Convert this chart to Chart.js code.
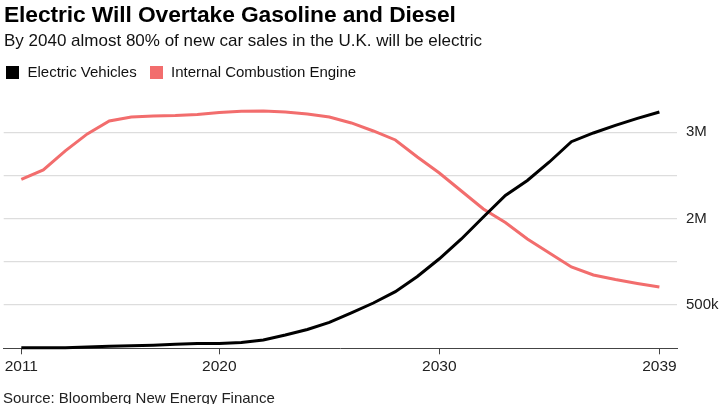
<!DOCTYPE html>
<html>
<head>
<meta charset="utf-8">
<script src="https://cdn.jsdelivr.net/npm/chart.js@4"></script>
<style>
  html, body { margin: 0; padding: 0; background: #fff; }
  body { width: 723px; height: 404px; position: relative; overflow: hidden; font-family: "Liberation Sans", Arial, sans-serif; color: #000; }
  #c { position: absolute; left: 0; top: 0; }
  .t { position: absolute; white-space: nowrap; }
  #title { left: 4px; top: 1px; font-size: 22.8px; font-weight: bold; letter-spacing: -0.1px; }
  #sub { left: 4px; top: 31px; font-size: 17px; color: #111; }
  .sw { position: absolute; width: 13px; height: 13px; top: 65.5px; }
  .lg { top: 63px; font-size: 15px; color: #111; }
  #src { left: 3px; top: 389px; font-size: 15px; color: #222; }
</style>
</head>
<body>
<canvas id="c" width="723" height="404"></canvas>
<div class="t" id="title">Electric Will Overtake Gasoline and Diesel</div>
<div class="t" id="sub">By 2040 almost 80% of new car sales in the U.K. will be electric</div>
<div class="sw" style="left:5.5px;background:#000"></div>
<div class="t lg" style="left:27.5px">Electric Vehicles</div>
<div class="sw" style="left:150px;background:#f26d6d"></div>
<div class="t lg" style="left:171px">Internal Combustion Engine</div>
<div class="t" id="src">Source: Bloomberg New Energy Finance</div>
<script>
const years = [2011,2012,2013,2014,2015,2016,2017,2018,2019,2020,2021,2022,2023,2024,2025,2026,2027,2028,2029,2030,2031,2032,2033,2034,2035,2036,2037,2038,2039,2040];
const electric = [5000,5000,6000,15000,23000,29000,35000,46000,56000,56000,67000,96000,154000,218000,299000,409000,524000,655000,831000,1036000,1265000,1520000,1769000,1942000,2156000,2391000,2492000,2579000,2660000,2735000];
const combustion = [1956000,2064000,2284000,2481000,2631000,2677000,2689000,2694000,2706000,2729000,2744000,2747000,2735000,2712000,2677000,2608000,2515000,2411000,2214000,2029000,1820000,1612000,1456000,1265000,1103000,941000,848000,796000,750000,709000];
const xTickValues = [2011, 2020, 2030, 2040];
const xTickLabels = ["2011", "2020", "2030", "2039"];
const yTickValues = [500000, 1000000, 1500000, 2000000, 2500000];
const yTickLabels = ["500k", "", "2M", "", "3M"];

const toPoints = arr => years.map((yr, i) => ({ x: yr, y: arr[i] }));

new Chart(document.getElementById('c'), {
  type: 'line',
  data: {
    datasets: [
      { label: 'Electric Vehicles', data: toPoints(electric), borderColor: '#000', borderWidth: 3, pointRadius: 0, tension: 0, clip: false },
      { label: 'Internal Combustion Engine', data: toPoints(combustion), borderColor: '#f26d6d', borderWidth: 3, pointRadius: 0, tension: 0, clip: false }
    ]
  },
  options: {
    responsive: false,
    animation: false,
    events: [],
    layout: { padding: { top: 97.7, left: 3.7, right: 0, bottom: 0 } },
    plugins: { legend: { display: false }, tooltip: { enabled: false }, title: { display: false } },
    scales: {
      x: {
        type: 'linear',
        min: 2010.2,
        max: 2040.8,
        afterBuildTicks: s => { s.ticks = xTickValues.map(v => ({ value: v })); },
        afterFit: s => { s.height = 55.7; },
        ticks: {
          autoSkip: false,
          maxRotation: 0,
          padding: 3,
          color: '#222',
          font: { family: '"Liberation Sans", Arial, sans-serif', size: 15.5 },
          callback: v => { const i = xTickValues.indexOf(v); return i >= 0 ? xTickLabels[i] : ''; }
        },
        grid: { drawOnChartArea: false, drawTicks: true, tickLength: 6, color: '#444', lineWidth: 1 },
        border: { display: true, color: '#444', width: 1 }
      },
      y: {
        position: 'right',
        min: 0,
        max: 2900000,
        afterBuildTicks: s => { s.ticks = yTickValues.map(v => ({ value: v })); },
        afterFit: s => { s.width = 46; },
        ticks: {
          padding: 9,
          color: '#222',
          font: { family: '"Liberation Sans", Arial, sans-serif', size: 15 },
          callback: v => { const i = yTickValues.indexOf(v); return i >= 0 ? yTickLabels[i] : ''; }
        },
        grid: { color: '#dddddd', lineWidth: 1.2, drawTicks: false },
        border: { display: false }
      }
    }
  }
});
</script>
</body>
</html>
